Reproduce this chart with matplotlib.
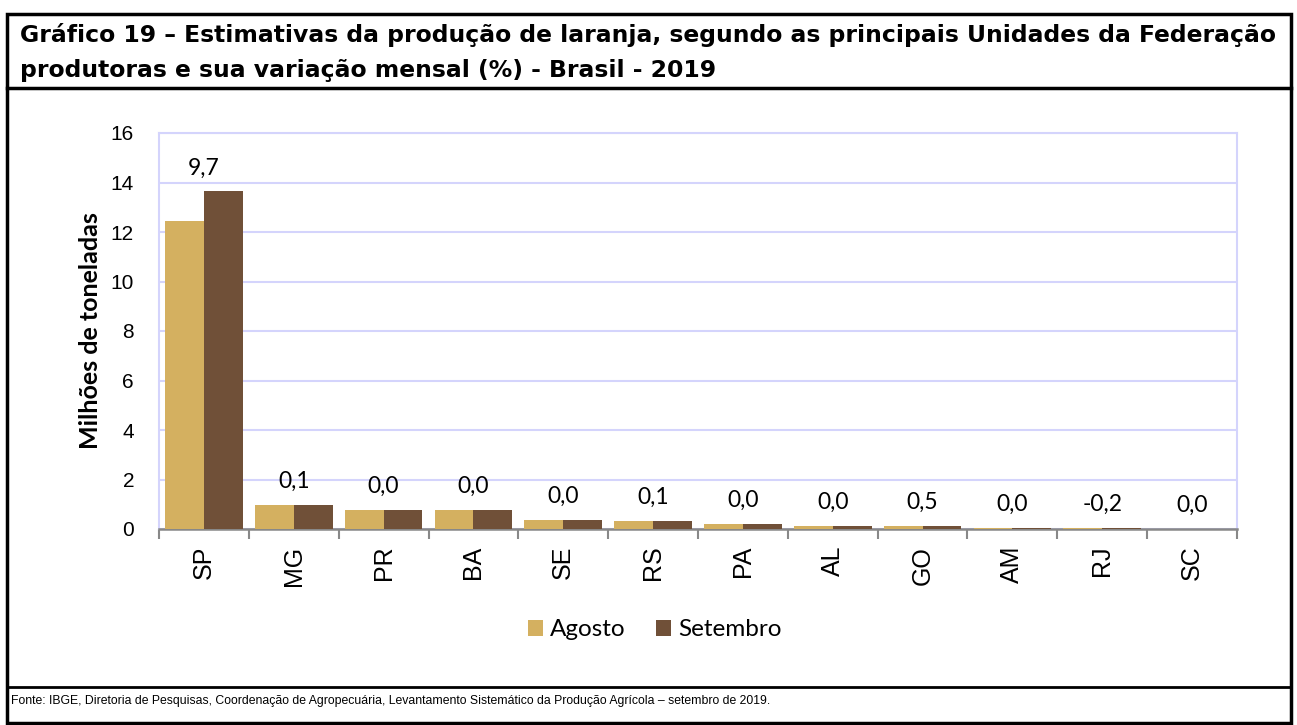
import matplotlib
matplotlib.use("Agg")
import matplotlib.pyplot as plt
from matplotlib.lines import Line2D
from matplotlib.patches import Rectangle
from matplotlib import font_manager
import numpy as np

categories = ["SP", "MG", "PR", "BA", "SE", "RS", "PA", "AL", "GO", "AM", "RJ", "SC"]
agosto = [12.43, 0.97, 0.78, 0.77, 0.37, 0.34, 0.20, 0.14, 0.12, 0.05, 0.05, 0.02]
setembro = [13.64, 0.97, 0.78, 0.77, 0.37, 0.34, 0.20, 0.14, 0.12, 0.05, 0.05, 0.02]
variacao = ["9,7", "0,1", "0,0", "0,0", "0,0", "0,1", "0,0", "0,0", "0,5", "0,0", "-0,2", "0,0"]
yticks = [0, 2, 4, 6, 8, 10, 12, 14, 16]

title_1 = "Gráfico 19 – Estimativas da produção de laranja, segundo as principais Unidades da Federação"
title_2 = "produtoras e sua variação mensal (%) - Brasil - 2019"
source = ("Fonte: IBGE, Diretoria de Pesquisas, Coordenação de Agropecuária, "
          "Levantamento Sistemático da Produção Agrícola – setembro de 2019.")

C_AGO = "#D4B060"
C_SET = "#705038"
GRID = "#D4D4FC"

names = {f.name for f in font_manager.fontManager.ttflist}
if "Liberation Sans Narrow" in names:
    src_font, src_size = "Liberation Sans Narrow", 10.7
else:
    src_font, src_size = "Liberation Sans", 8.8

W, H = 1297, 725
fig = plt.figure(figsize=(W / 100, H / 100), dpi=100)

def fx(px):
    return px / W

def fy(py):
    return 1 - py / H

# Outer frame and separators
fig.add_artist(Rectangle((fx(7), fy(723)), fx(1291) - fx(7), fy(14) - fy(723),
                         transform=fig.transFigure, fill=False, lw=2.5, ec="black"))
fig.add_artist(Line2D([fx(7), fx(1291)], [fy(88), fy(88)], transform=fig.transFigure, lw=2.5, color="black"))
fig.add_artist(Line2D([fx(7), fx(1291)], [fy(687), fy(687)], transform=fig.transFigure, lw=2, color="black"))

fig.text(fx(20), fy(35), title_1, ha="left", va="center", fontsize=16.9, fontweight="bold",
         family="DejaVu Sans")
fig.text(fx(20), fy(71), title_2, ha="left", va="center", fontsize=16.9, fontweight="bold",
         family="DejaVu Sans")
fig.text(fx(11), fy(701), source, ha="left", va="center", fontsize=src_size, family=src_font)

ax = fig.add_axes([fx(159), fy(529), fx(1237) - fx(159), fy(133) - fy(529)])
x = np.arange(len(categories))
bw = 0.432
ax.bar(x - bw / 2, agosto, bw, color=C_AGO, label="Agosto", zorder=3)
ax.bar(x + bw / 2, setembro, bw, color=C_SET, label="Setembro", zorder=3)

for xi, a, s, lab in zip(x, agosto, setembro, variacao):
    ax.annotate(lab, (xi, max(a, s)), xytext=(0, 17), textcoords="offset pixels",
                ha="center", va="baseline", fontsize=16.5, family="Lato", color="black")

ax.set_xlim(-0.5, len(categories) - 0.5)
ax.set_ylim(0, 16)
ax.set_yticks(yticks)
ax.set_yticklabels([str(v) for v in yticks], fontsize=15, family="Liberation Sans")
ax.tick_params(axis="y", length=0, pad=18)
ax.yaxis.grid(True, color=GRID, lw=1.5, zorder=0)
ax.set_axisbelow(True)

ax.set_xticks(np.arange(-0.5, len(categories), 1.0))
ax.set_xticklabels([])
ax.set_xticks(x, minor=True)
ax.set_xticklabels(categories, minor=True, rotation=90, fontsize=18, family="Liberation Sans")
ax.tick_params(axis="x", which="major", length=7, color="#888888", width=1.5, direction="out")
ax.tick_params(axis="x", which="minor", length=0, pad=12)

for side in ["left", "right", "top"]:
    ax.spines[side].set_color(GRID)
    ax.spines[side].set_linewidth(1.5)
ax.spines["bottom"].set_color("#888888")
ax.spines["bottom"].set_linewidth(1.8)

ax.set_ylabel("Milhões de toneladas", fontsize=18, fontweight="bold", family="Lato")
ax.yaxis.set_label_coords(-0.053, 0.5)

fig.legend(loc="center", bbox_to_anchor=(fx(655), fy(630)), ncol=2, frameon=False,
           prop={"family": "Lato", "size": 17.5}, handlelength=0.62, handleheight=0.62,
           handletextpad=0.3, columnspacing=1.25)

fig.savefig("out.png", dpi=100)
